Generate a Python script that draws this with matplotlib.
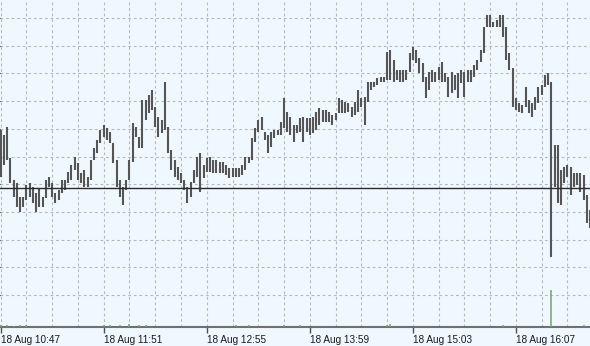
import numpy as np
import matplotlib
matplotlib.use("Agg")
import matplotlib.pyplot as plt

# 2-minute bars starting 18 Aug 10:47 (minutes from start)
bar_step = 2
highs = [210, 205, 213, 182, 160, 157, 143, 143, 155, 157,
         153, 147, 152, 143, 160, 163, 157, 147, 150, 160,
         160, 168, 175, 183, 177, 167, 170, 163, 180, 192,
         200, 210, 215, 212, 208, 197, 180, 160, 153, 160,
         180, 217, 213, 203, 240, 240, 245, 250, 233, 223,
         220, 258, 213, 190, 180, 173, 167, 160, 153, 158,
         170, 183, 187, 175, 182, 183, 180, 180, 178, 178,
         175, 172, 172, 172, 172, 175, 183, 183, 202, 212,
         220, 223, 208, 205, 208, 210, 210, 218, 242, 228,
         223, 215, 215, 222, 223, 222, 222, 223, 228, 232,
         230, 230, 228, 225, 227, 242, 240, 238, 237, 233,
         238, 250, 242, 243, 258, 258, 258, 262, 263, 263,
         288, 290, 280, 270, 270, 270, 270, 287, 293, 290,
         282, 277, 263, 268, 270, 268, 273, 278, 267, 263,
         268, 265, 267, 270, 268, 270, 270, 275, 280, 290,
         313, 325, 325, 318, 320, 325, 325, 313, 287, 272,
         242, 237, 235, 253, 240, 237, 243, 253, 255, 265,
         267, 258, 195, 195, 170, 173, 175, 173, 167, 167,
         167, 165, 145, 130]
lows = [163, 175, 180, 157, 143, 133, 128, 133, 140, 143,
        137, 128, 133, 133, 142, 153, 143, 137, 140, 147,
        150, 157, 160, 170, 160, 157, 153, 153, 160, 180,
        187, 197, 203, 200, 197, 177, 153, 143, 135, 150,
        160, 178, 203, 192, 192, 220, 227, 230, 213, 203,
        207, 210, 187, 170, 163, 160, 157, 150, 137, 143,
        157, 163, 148, 162, 168, 168, 167, 167, 167, 167,
        165, 162, 163, 163, 163, 165, 170, 177, 180, 198,
        208, 210, 200, 187, 193, 202, 205, 205, 212, 208,
        205, 198, 207, 208, 198, 208, 205, 207, 210, 215,
        218, 218, 218, 215, 220, 227, 227, 227, 228, 223,
        225, 228, 233, 215, 238, 250, 253, 255, 258, 258,
        260, 260, 258, 260, 258, 258, 260, 268, 280, 277,
        267, 258, 242, 250, 258, 258, 260, 258, 258, 243,
        247, 250, 242, 257, 243, 258, 258, 263, 270, 278,
        287, 313, 313, 313, 313, 313, 303, 280, 270, 233,
        230, 228, 227, 233, 227, 223, 230, 237, 245, 253,
        255, 83, 153, 137, 135, 157, 163, 145, 153, 155,
        148, 140, 117, 112]
volumes = [5, 1, 6, 1, 4, 1, 5, 1, 6, 1, 1, 1, 1, 1, 1, 1, 1, 1, 1, 1,
           1, 1, 1, 1, 1, 1, 1, 1, 1, 1, 1, 1, 5, 1, 6, 1, 1, 5, 1, 1,
           7, 1, 1, 6, 1, 5, 1, 1, 1, 1, 1, 1, 1, 1, 1, 1, 1, 1, 1, 1,
           1, 1, 1, 1, 1, 1, 1, 1, 1, 1, 1, 1, 1, 5, 1, 1, 1, 6, 1, 1,
           1, 1, 1, 1, 1, 1, 1, 1, 5, 1, 1, 1, 1, 5, 1, 1, 1, 1, 1, 1,
           1, 1, 1, 1, 1, 1, 1, 1, 1, 1, 1, 1, 1, 1, 1, 1, 1, 1, 1, 1,
           6, 7, 1, 1, 1, 1, 1, 1, 1, 1, 1, 1, 1, 1, 1, 1, 1, 1, 1, 1,
           1, 1, 1, 1, 1, 1, 1, 1, 1, 1, 1, 1, 1, 1, 1, 1, 6, 1, 1, 1,
           1, 1, 1, 1, 1, 1, 1, 1, 1, 1, 1, 100, 1, 1, 1, 1, 1, 1, 1, 1,
           1, 6, 1, 1]
current_price = 152

tick_minutes = [0, 64, 128, 192, 256, 320]
tick_labels = ['18 Aug 10:47', '18 Aug 11:51', '18 Aug 12:55',
               '18 Aug 13:59', '18 Aug 15:03', '18 Aug 16:07']
grid_minutes = np.arange(0, 366, 16)
grid_prices = np.linspace(45, 322, 11)

t = np.arange(len(highs)) * bar_step

plt.rcParams['font.family'] = ['Liberation Sans', 'DejaVu Sans']
bg = '#f0f8ff'
fig = plt.figure(figsize=(5.9, 3.46), dpi=100, facecolor=bg)
ax = fig.add_axes([0, 19 / 346, 1, 327 / 346])
ax.set_facecolor(bg)

ax.vlines(t, lows, highs, color='#555555', lw=1.5, zorder=3)
ax.axhline(current_price, color='#2a2a2a', lw=1, zorder=4)

ax.set_xlim(-0.4, 366)
ax.set_ylim(13, 340)

ax.set_xticks(tick_minutes, tick_labels)
ax.set_xticks(grid_minutes, minor=True)
ax.set_yticks(grid_prices)
for lbl in ax.get_xticklabels():
    lbl.set_horizontalalignment('left')
ax.tick_params(axis='x', which='major', length=4, width=1, color='#505050',
               pad=1.5, labelsize=7.2, labelcolor='#1a1a1a')
ax.tick_params(axis='x', which='minor', length=0)
ax.tick_params(axis='y', left=False, labelleft=False)
ax.set_axisbelow(True)
ax.grid(True, which='both', color='#b8b8b8', lw=0.8, linestyle=(0, (2.5, 2.5)))

for s in ['top', 'left', 'right']:
    ax.spines[s].set_visible(False)
ax.spines['bottom'].set_color('#707070')
ax.spines['bottom'].set_linewidth(1.5)

# volumes along the bottom
ax2 = ax.twinx()
ax2.vlines(t, 0, volumes, color='#6aa86a', lw=1.1)
ax2.set_ylim(0, 884)
ax2.set_yticks([])
for s in ['top', 'left', 'right', 'bottom']:
    ax2.spines[s].set_visible(False)

fig.savefig('out.png', dpi=100, facecolor=bg)
